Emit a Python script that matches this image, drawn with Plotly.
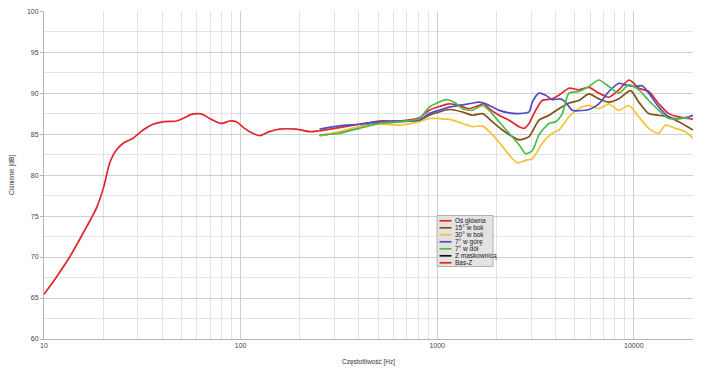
import math
import plotly.graph_objects as go

# ---- data (frequency in Hz, SPL in dB) ----
bas_f = [10, 11.6, 13.5, 15.8, 18.5, 20.1, 21.6, 23.4, 25.7, 28.4, 31.9, 35.9, 40.3, 47.2, 50.9,
         56.2, 60.6, 64.3, 69.6, 79.9, 88, 95, 104.7, 111, 125, 140, 158, 192, 224, 252]
bas_db = [65.45, 67.6, 70.0, 72.9, 76.0, 78.5, 81.5, 83.1, 84.0, 84.5, 85.5, 86.2, 86.5, 86.6, 86.9,
          87.4, 87.5, 87.4, 86.9, 86.3, 86.6, 86.5, 85.7, 85.3, 84.8, 85.3, 85.6, 85.6, 85.3, 85.4]

os_f = [252, 318, 402, 508, 641, 810, 910, 1004, 1151, 1293, 1453, 1634, 1733, 1837, 2064, 2320, 2608, 2764,
        2931, 3168, 3424, 3849, 4161, 4678, 5258, 5909, 6643, 7467, 8393, 9433, 10000, 10602, 11916, 13395,
        15055, 16922, 19020, 20000]
os_db = [85.4, 85.8, 86.2, 86.6, 86.6, 87.0, 87.9, 88.3, 88.7, 88.5, 88.1, 88.5, 88.7, 88.1, 87.3, 86.7, 85.9, 85.7,
         86.3, 87.9, 89.1, 89.3, 89.75, 90.6, 90.4, 90.7, 90.0, 89.5, 90.4, 91.6, 91.2, 90.6, 90.2, 88.7,
         87.5, 87.1, 86.9, 86.8]

b15_f = [252, 318, 402, 508, 641, 810, 910, 1024, 1151, 1345, 1511, 1699, 1910, 2146, 2412, 2608, 2931, 3294,
         3702, 4161, 4678, 5258, 5909, 6643, 7467, 8393, 9618, 10602, 11916, 13395, 15055, 16922, 20000]
b15_db = [84.8, 85.2, 85.9, 86.3, 86.5, 86.7, 87.3, 87.7, 88.0, 87.7, 87.3, 87.5, 86.5, 85.5, 84.7, 84.3, 84.7,
          86.7, 87.3, 88.1, 88.8, 89.1, 89.9, 89.3, 88.9, 89.3, 90.3, 88.9, 87.5, 87.3, 87.1, 86.5, 85.5]

b30_f = [252, 318, 402, 508, 641, 810, 910, 1024, 1151, 1345, 1511, 1699, 1910, 2146, 2412, 2557, 2819, 3047,
         3424, 3849, 4161, 4678, 5258, 5909, 6643, 7467, 8393, 9433, 10602, 11916, 13395, 14480, 16277, 18291,
         20000]
b30_db = [84.8, 85.3, 85.9, 86.2, 86.1, 86.5, 86.9, 86.9, 86.8, 86.3, 85.9, 86.0, 84.9, 83.5, 82.0, 81.5, 81.8,
          82.0, 83.9, 85.1, 85.5, 87.1, 88.1, 88.5, 88.1, 88.7, 87.9, 88.5, 87.1, 85.7, 85.1, 86.1, 85.7, 85.3,
          84.5]

gora_f = [252, 318, 402, 508, 641, 810, 910, 1024, 1151, 1293, 1453, 1634, 1766, 1910, 2064, 2320, 2608, 2931,
          3047, 3294, 3561, 3849, 4243, 4499, 4863, 5258, 5909, 6643, 7467, 8393, 9073, 10197, 11024, 11916,
          13395, 15055, 16922, 19020, 20000]
gora_db = [85.6, 86.0, 86.2, 86.5, 86.6, 86.7, 87.5, 87.9, 88.3, 88.5, 88.7, 88.9, 88.7, 88.3, 87.9, 87.6, 87.5,
           87.7, 88.9, 90.0, 89.75, 89.2, 89.3, 88.9, 87.9, 87.85, 88.0, 88.7, 90.2, 91.2, 91.0, 90.8, 90.9,
           90.0, 88.3, 87.1, 86.9, 87.1, 87.3]

dol_f = [252, 318, 402, 508, 641, 810, 910, 1024, 1107, 1220, 1345, 1511, 1699, 1837, 2064, 2320, 2608, 2819,
         3047, 3294, 3702, 4002, 4327, 4678, 5258, 5909, 6643, 7467, 8393, 9433, 10602, 11916, 13395, 15055,
         16922, 19020]
dol_db = [84.9, 85.1, 85.7, 86.3, 86.5, 86.9, 88.3, 88.9, 89.2, 88.9, 88.1, 87.9, 88.5, 87.9, 86.5, 85.1, 83.7,
          82.6, 83.0, 84.9, 86.3, 86.5, 87.5, 90.0, 90.2, 90.8, 91.6, 90.8, 90.0, 91.0, 90.4, 89.1, 87.9, 86.9,
          86.9, 87.0]

mask_f = []
mask_db = []

x_ticks = [10, 100, 1000, 10000]
x_tick_labels = ["10", "100", "1000", "10000"]

series = [
    ("Oś główna", os_f, os_db, "#e3242b"),
    ("15° w bok", b15_f, b15_db, "#7f5218"),
    ("30° w bok", b30_f, b30_db, "#f3c43a"),
    ("7° w górę", gora_f, gora_db, "#4a4fc4"),
    ("7° w dół", dol_f, dol_db, "#4cbb48"),
    ("Z maskownicą", mask_f, mask_db, "#111111"),
    ("Bas-Z", bas_f, bas_db, "#e3242b"),
]

fig = go.Figure()
for name, f, db, col in series:
    fig.add_trace(go.Scatter(x=f, y=db, name=name, mode="lines", showlegend=False,
                             line=dict(color=col, width=1.7, shape="spline", smoothing=0.7)))

# ---- compact legend box (paper coords; plot area spans px 44..693 x 11..339) ----
PL, PR, PT, PB = 44.0, 693.0, 11.0, 339.0
def px(xp):
    return (xp - PL) / (PR - PL)
def py(yp):
    return (PB - yp) / (PB - PT)

shapes = [dict(type="rect", xref="paper", yref="paper", x0=px(437), x1=px(493), y0=py(266.5), y1=py(215.5),
               fillcolor="#e3e3e3", line=dict(color="#b0b0b0", width=1), layer="above")]
annotations = []
for i, (name, f, db, col) in enumerate(series):
    yy = 220.8 + i * 7.0
    shapes.append(dict(type="line", xref="paper", yref="paper", x0=px(439.5), x1=px(451.5),
                       y0=py(yy), y1=py(yy), line=dict(color=col, width=1.7), layer="above"))
    annotations.append(dict(xref="paper", yref="paper", x=px(453.2), y=py(yy), text=name, showarrow=False,
                            xanchor="left", yanchor="middle", font=dict(size=6.5, color="#222")))

annotations.append(dict(xref="paper", yref="paper", x=0.5, y=py(361.5), text="Częstotliwość [Hz]",
                        showarrow=False, xanchor="center", yanchor="middle", font=dict(size=6.5, color="#333")))
annotations.append(dict(xref="paper", yref="paper", x=px(12), y=0.5, text="Ciśnienie [dB]", textangle=-90,
                        showarrow=False, xanchor="center", yanchor="middle", font=dict(size=6.5, color="#333")))

minor_x = [m * 10 ** d for d in range(1, 5) for m in range(2, 10) if m * 10 ** d <= 20000]

fig.update_layout(
    width=708, height=373,
    margin=dict(l=44, r=15, t=11, b=34),
    paper_bgcolor="white", plot_bgcolor="white",
    font=dict(family="Liberation Sans, Arial, sans-serif", size=7, color="#444"),
    showlegend=False,
    shapes=shapes, annotations=annotations,
    xaxis=dict(type="log", range=[1, math.log10(20000)], tickvals=x_ticks, ticktext=x_tick_labels,
               showgrid=True, gridcolor="#cfcfcf", gridwidth=1,
               minor=dict(tickvals=minor_x, showgrid=True, gridcolor="#e3e3e3", gridwidth=1),
               showline=True, linecolor="#b5b5b5", ticks="", zeroline=False, automargin=False,
               tickfont=dict(size=7, color="#444")),
    yaxis=dict(range=[60, 100.02], dtick=5, showgrid=True, gridcolor="#cfcfcf", gridwidth=1,
               minor=dict(dtick=2.5, showgrid=True, gridcolor="#e3e3e3", gridwidth=1),
               showline=True, linecolor="#b5b5b5", ticks="outside", ticklen=3, tickcolor="#b5b5b5",
               zeroline=False, automargin=False, tickfont=dict(size=7, color="#444")),
)

# remove the default 8 px page margin so the figure sits at the window origin
fig.write_html("out.html", config={"displayModeBar": False},
               post_script="document.body.style.margin='0';")
